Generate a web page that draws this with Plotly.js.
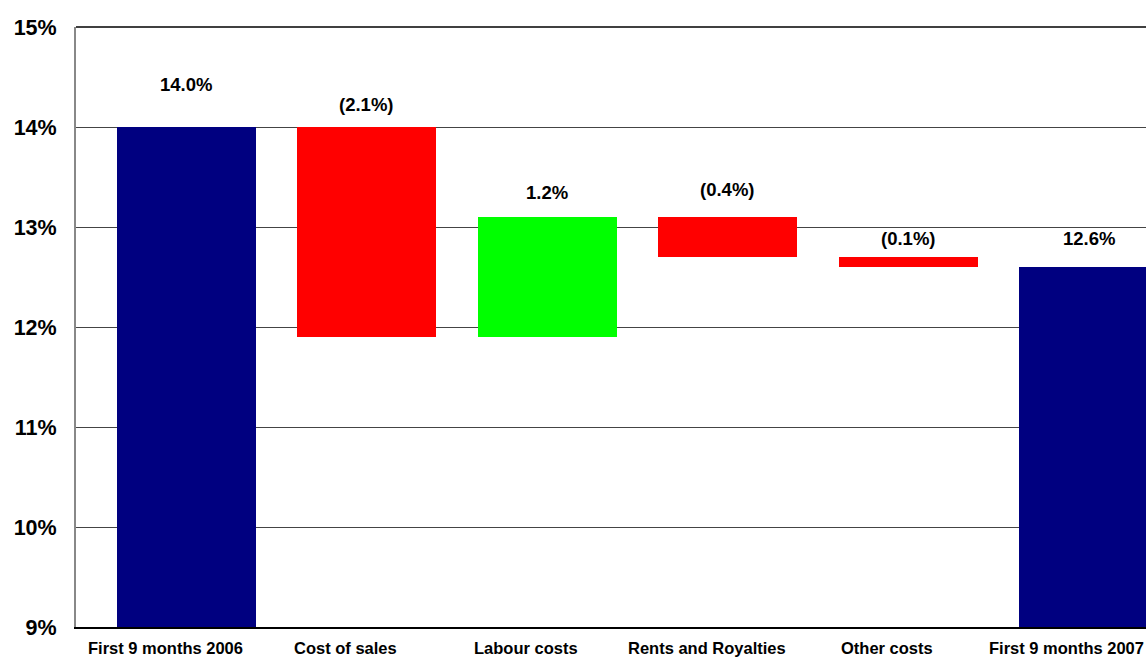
<!DOCTYPE html>
<html>
<head>
<meta charset="utf-8">
<script src="https://cdn.plot.ly/plotly-3.0.1.min.js"></script>
<style>html,body{margin:0;padding:0;background:#fff;}#chart{width:1146px;height:657px;}</style>
</head>
<body>
<div id="chart"></div>
<script>
// Data
const categories = ["First 9 months 2006", "Cost of sales", "Labour costs", "Rents and Royalties", "Other costs", "First 9 months 2007"];
const startValue = 14.0;
const changes = [-2.1, 1.2, -0.4, -0.1];
const endValue = 12.6;
const valueLabels = ["14.0%", "(2.1%)", "1.2%", "(0.4%)", "(0.1%)", "12.6%"];
const yTickVals = [9, 10, 11, 12, 13, 14, 15];
const yTickText = ["9%", "10%", "11%", "12%", "13%", "14%", "15%"];

// Styles
const FONT = "Liberation Sans, Arial, sans-serif";
const colTotal = "#000080", colDown = "#FF0000", colUp = "#00FF00";
const labelLift = [43, 23, 25, 28, 19, 29];
const axisBase = 9;

// Build waterfall segments
const bases = [], lengths = [], colors = [], tops = [];
bases.push(axisBase); lengths.push(startValue - axisBase); colors.push(colTotal); tops.push(startValue);
let running = startValue;
changes.forEach(c => {
  const lo = Math.min(running, running + c), hi = Math.max(running, running + c);
  bases.push(lo); lengths.push(hi - lo); colors.push(c < 0 ? colDown : colUp); tops.push(hi);
  running += c;
});
bases.push(axisBase); lengths.push(endValue - axisBase); colors.push(colTotal); tops.push(endValue);

const trace = {
  type: "bar",
  x: categories.map((_, i) => i),
  y: lengths,
  base: bases,
  width: 0.77,
  marker: {color: colors, line: {width: 0}},
  hoverinfo: "skip"
};

const annotations = categories.map((c, i) => ({
  x: i, y: tops[i], xref: "x", yref: "y",
  text: valueLabels[i], showarrow: false,
  yanchor: "middle", yshift: labelLift[i],
  font: {family: FONT, size: 18.5, color: "#000", weight: "bold"}
}));

// Category labels (as annotations so the last one can be kept inside the page)
categories.forEach((c, i) => {
  const last = i === categories.length - 1;
  annotations.push({
    x: last ? 1 : i, xref: last ? "paper" : "x",
    y: 0, yref: "paper",
    xanchor: last ? "right" : "center", xshift: last ? 0 : -21,
    yanchor: "top", yshift: -10,
    text: c, showarrow: false,
    font: {family: FONT, size: 16.5, color: "#000", weight: "bold"}
  });
});

const layout = {
  width: 1146, height: 657,
  margin: {l: 76, r: 0, t: 27, b: 30},
  paper_bgcolor: "#fff", plot_bgcolor: "#fff",
  showlegend: false,
  bargap: 0,
  xaxis: {
    range: [-0.612, 5.316],
    showticklabels: false,
    showgrid: false, zeroline: false,
    showline: true, linecolor: "#000", linewidth: 1.5,
    ticks: "",
    fixedrange: true
  },
  yaxis: {
    range: [9, 15],
    tickvals: yTickVals, ticktext: yTickText,
    showgrid: true, gridcolor: "#444", gridwidth: 1,
    zeroline: false,
    showline: true, linecolor: "#888", linewidth: 2, mirror: false,
    ticks: "", ticklabelstandoff: 13,
    tickfont: {family: FONT, size: 21.5, color: "#000", weight: "bold"},
    fixedrange: true
  },
  shapes: [{type: "line", xref: "paper", yref: "paper", x0: 0, x1: 1, y0: 1, y1: 1, line: {color: "#000", width: 1.5}}],
  annotations: annotations
};

Plotly.newPlot("chart", [trace], layout, {displayModeBar: false, staticPlot: true});
</script>
</body>
</html>
